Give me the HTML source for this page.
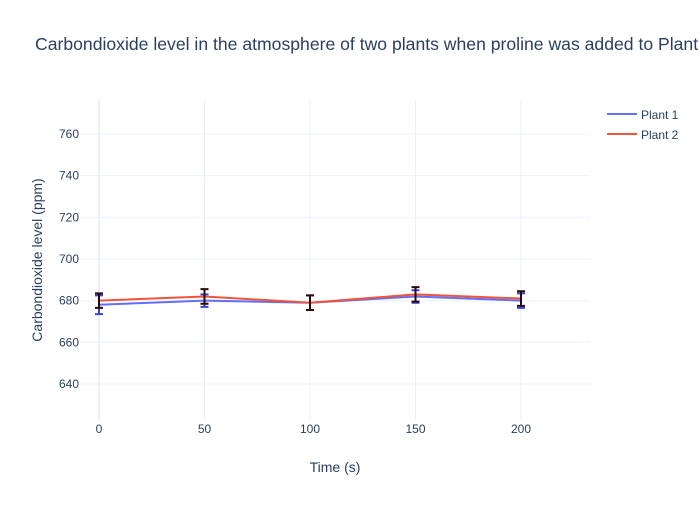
<!DOCTYPE html>
<html><head><meta charset="utf-8"><style>
body{margin:0;background:#fff;font-family:"Liberation Sans",sans-serif}
svg text{font-family:"Liberation Sans",sans-serif;fill:#2a3f5f}
</style></head><body>
<svg id="c" width="700" height="500">
<text x="35" y="50" font-size="17.6">Carbondioxide level in the atmosphere of two plants when proline was added to Plant 2</text>
<g id="grid"></g><g id="marks"></g><g id="ticks"></g>
<text x="335" y="472" font-size="14" text-anchor="middle">Time (s)</text>
<text transform="translate(42,260) rotate(-90)" font-size="14" text-anchor="middle">Carbondioxide level (ppm)</text>
<g>
<g><line x1="607" y1="114" x2="637" y2="114" stroke="#636efa" stroke-width="2"/><text x="641" y="119" font-size="12">Plant 1</text></g>
<g><line x1="607" y1="134" x2="637" y2="134" stroke="#ef553b" stroke-width="2"/><text x="641" y="139" font-size="12">Plant 2</text></g>
</g>
</svg>
<script>
const times=[0,50,100,150,200];
const plant1=[678,680,679,682,680];
const plant1Err=[4.5,3,3.5,3,3.5];
const plant2=[680,682,679,683,681];
const plant2Err=[3.5,3.5,3.5,3.5,3.5];
const xTicks=[0,50,100,150,200];
const yTicks=[640,660,680,700,720,740,760];
const NS="http://www.w3.org/2000/svg";
const L=80,R=590,T=100,B=420,xMin=-9,xMax=232.7,yMin=622.7,yMax=776.3;
const sx=v=>L+(v-xMin)/(xMax-xMin)*(R-L);
const sy=v=>B-(v-yMin)/(yMax-yMin)*(B-T);
function mk(tag,attrs,parent){const e=document.createElementNS(NS,tag);for(const k in attrs)e.setAttribute(k,attrs[k]);document.getElementById(parent).appendChild(e);return e;}
yTicks.forEach(t=>{
 const g=mk('line',{x1:L,x2:R,y1:sy(t),y2:sy(t),stroke:'#ebf0f8'},'grid');
 
 
 const tx=mk('text',{x:L-1,y:sy(t)+4,'font-size':12,'text-anchor':'end'},'ticks');tx.textContent=t;
 
 
});
xTicks.forEach(t=>{
 const g=mk('line',{x1:sx(t),x2:sx(t),y1:T,y2:B,stroke:'#ebf0f8','stroke-width':t===0?2:1},'grid');
 
 
 const tx=mk('text',{x:sx(t),y:B+13,'font-size':12,'text-anchor':'middle'},'ticks');tx.textContent=t;
 
 
});
function series(vals,errs,color,ecolor,name){
 const p=mk('polyline',{points:times.map((t,i)=>sx(t)+','+sy(vals[i])).join(' '),fill:'none',stroke:color,'stroke-width':2},'marks');
 
 
 times.forEach((t,i)=>{
  const x=sx(t),y1=sy(vals[i]+errs[i]),y2=sy(vals[i]-errs[i]);
  const e=mk('path',{d:`M${x},${y1}V${y2}M${x-4},${y1}H${x+4}M${x-4},${y2}H${x+4}`,stroke:ecolor,'stroke-width':2,fill:'none'},'marks');
  
  
 });
}
series(plant1,plant1Err,'#636efa','#3a44e0','plant-1');
series(plant2,plant2Err,'#ef553b','#2a0a0a','plant-2');
</script>
</body></html>
